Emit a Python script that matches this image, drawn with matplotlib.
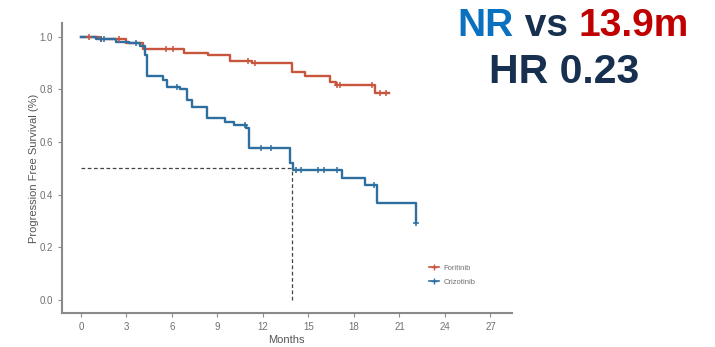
import numpy as np
import matplotlib
matplotlib.use("Agg")
import matplotlib.pyplot as plt
from matplotlib.lines import Line2D

# ---- data ----
drug_label = "Foritinib"
ctrl_label = "Crizotinib"

red_times = [0, 1.2, 3.0, 4.1, 6.8, 8.4, 9.8, 11.3, 13.9, 14.8, 16.4, 16.8, 19.4, 20.3]
red_surv = [1.0, 0.99, 0.978, 0.955, 0.94, 0.93, 0.91, 0.90, 0.868, 0.853, 0.83, 0.818, 0.786, 0.786]
red_censor = [0.5, 1.3, 2.5, 5.6, 6.1, 11.0, 11.5, 16.9, 17.1, 19.2, 19.7, 20.1]

blue_times = [0, 1.0, 2.3, 3.2, 3.9, 4.2, 4.35, 5.4, 5.7, 6.5, 7.0, 7.3, 8.3, 9.5, 10.1,
              10.9, 11.1, 13.8, 14.0, 17.2, 18.7, 19.5, 22.1]
blue_surv = [1.0, 0.99, 0.98, 0.975, 0.965, 0.93, 0.85, 0.835, 0.81, 0.80, 0.76, 0.735, 0.69,
             0.675, 0.665, 0.655, 0.578, 0.52, 0.494, 0.465, 0.437, 0.369, 0.293]
blue_censor = [1.3, 1.5, 3.6, 6.3, 10.8, 11.9, 12.5, 14.2, 14.5, 15.6, 16.0, 16.9, 19.3, 22.1]

median_ctrl = 13.9
x_ticks = [0, 3, 6, 9, 12, 15, 18, 21, 24, 27]
y_ticks = [0.0, 0.2, 0.4, 0.6, 0.8, 1.0]

red_col = "#c8553d"
blue_col = "#2f6f9f"
grey = "#707070"


def surv_at(times, surv, t):
    idx = np.searchsorted(times, t, side="right") - 1
    return np.array(surv)[idx]


plt.rcParams['font.family'] = ['Liberation Sans', 'DejaVu Sans']

fig = plt.figure(figsize=(7.15, 3.47), dpi=100)
ax = fig.add_axes([0.0867, 0.098, 0.629, 0.836])

# median lines
ax.plot([0, median_ctrl], [0.5, 0.5], ls=(0, (3, 2)), color="#444444", lw=0.9)
ax.plot([median_ctrl, median_ctrl], [0, 0.5], ls=(0, (3, 2)), color="#444444", lw=0.9)

# KM curves
ax.step(red_times, red_surv, where="post", color=red_col, lw=1.7)
ax.step(blue_times, blue_surv, where="post", color=blue_col, lw=1.7)

ax.plot(red_censor, surv_at(red_times, red_surv, red_censor), ls="none", marker="+",
        ms=5, mew=1.1, color=red_col)
ax.plot(blue_censor, surv_at(blue_times, blue_surv, blue_censor), ls="none", marker="+",
        ms=5, mew=1.1, color=blue_col)

ax.set_xlim(-1.25, 28.4)
ax.set_ylim(-0.05, 1.053)
ax.set_xticks(x_ticks)
ax.set_yticks(y_ticks)
ax.set_yticklabels([f"{v:.1f}" for v in y_ticks])

for s in ["top", "right"]:
    ax.spines[s].set_visible(False)
for s in ["left", "bottom"]:
    ax.spines[s].set_color("#8a8a8a")
    ax.spines[s].set_linewidth(1.5)
ax.tick_params(colors="#8a8a8a", labelcolor=grey, labelsize=7, length=3, width=0.8)

ax.set_xlabel("Months", fontsize=8, color="#555555", labelpad=2)
ax.set_ylabel("Progression Free Survival (%)", fontsize=8, color="#555555", labelpad=0)

handles = [Line2D([0], [0], color=red_col, marker="+", lw=1.2, ms=4),
           Line2D([0], [0], color=blue_col, marker="+", lw=1.2, ms=4)]
ax.legend(handles, [drug_label, ctrl_label], loc="center left", bbox_to_anchor=(0.8, 0.13),
          frameon=False, fontsize=5.5, labelcolor=grey, handlelength=1.4, handletextpad=0.5,
          labelspacing=0.9)

# headline text on the right
fig.canvas.draw()
r = fig.canvas.get_renderer()
parts = [("NR", "#0a70c0"), (" vs ", "#17304f"), ("13.9m", "#c00000")]
fs = 28
texts = []
for s, c in parts:
    texts.append(fig.text(0, 0, s, fontsize=fs, fontweight="bold", color=c,
                          va="center", ha="left"))
widths = [t.get_window_extent(r).width for t in texts]
total = sum(widths)
x = 573 - total / 2
for t, w in zip(texts, widths):
    t.set_position((x / 715, 1 - 26 / 347))
    x += w

fig.text(564 / 715, 1 - 72 / 347, "HR 0.23", fontsize=29.5, fontweight="bold",
         color="#17304f", ha="center", va="center")

fig.savefig("out.png", dpi=100)
